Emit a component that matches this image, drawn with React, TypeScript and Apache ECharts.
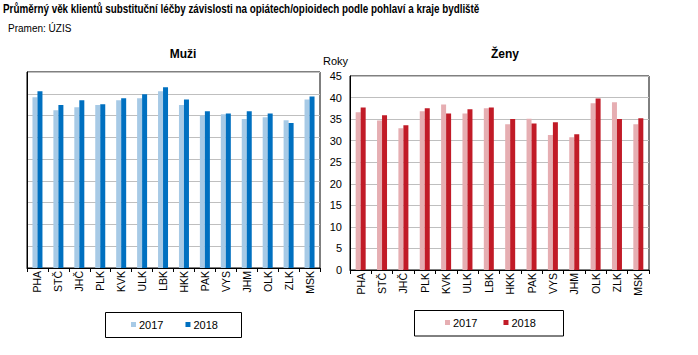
import React, { useEffect, useRef } from "react";
import * as echarts from "echarts";

const regions = ["PHA", "STČ", "JHČ", "PLK", "KVK", "ULK", "LBK", "HKK", "PAK", "VYS", "JHM", "OLK", "ZLK", "MSK"];
const men2017 = [39.2, 36.2, 36.9, 37.4, 38.5, 39.0, 40.6, 37.4, 35.0, 35.3, 34.2, 34.6, 33.9, 38.7];
const men2018 = [40.6, 37.4, 38.5, 37.6, 39.0, 39.9, 41.5, 38.7, 36.0, 35.5, 36.0, 35.5, 33.3, 39.4];
const women2017 = [36.6, 34.7, 32.9, 36.8, 38.4, 36.3, 37.5, 33.8, 35.1, 31.3, 30.8, 38.7, 38.9, 33.8];
const women2018 = [37.7, 35.9, 33.6, 37.5, 36.3, 37.3, 37.7, 35.0, 34.0, 34.3, 31.5, 39.8, 35.0, 35.2];
const years = ["2017", "2018"];
const mainTitle = "Průměrný věk klientů substituční léčby závislosti na opiátech/opioidech podle pohlaví a kraje bydliště";

const FONT = "'Liberation Sans', Arial, sans-serif";
const C = {
  m17: "#a7cae6",
  m18: "#0070c0",
  w17: "#e6aeb2",
  w18: "#c11b27",
};

export default function App() {
  const ref = useRef<HTMLDivElement>(null);
  useEffect(() => {
    if (!ref.current) return;
    const chart = echarts.init(ref.current, null, { renderer: "svg" });
    const xAxisBase = (gridIndex: number) => ({
      type: "category" as const,
      gridIndex,
      data: regions,
      boundaryGap: true,
      axisLine: { show: true, lineStyle: { color: "#000", width: 1 } },
      axisTick: { show: true, length: 4, lineStyle: { color: "#000" }, alignWithLabel: false },
      axisLabel: {
        interval: 0,
        rotate: 90,
        margin: 3,
        fontFamily: FONT,
        fontSize: 10.5,
        color: "#000",
      },
    });
    const yAxisBase = (gridIndex: number, showLabels: boolean) => ({
      type: "value" as const,
      gridIndex,
      min: 0,
      max: 45,
      interval: 5,
      axisLine: { show: true, lineStyle: { color: "#000", width: 1 } },
      axisTick: { show: false },
      splitLine: { show: true, lineStyle: { color: "#bfbfbf", width: 1 } },
      axisLabel: {
        show: showLabels,
        margin: 8,
        fontFamily: FONT,
        fontSize: 11,
        color: "#000",
      },
    });
    chart.setOption({
      animation: false,
      title: [
        {
          text: "Pramen: ÚZIS",
          left: 3,
          top: 18,
          textStyle: { fontFamily: FONT, fontSize: 10, fontWeight: "normal", color: "#000" },
        },
        {
          text: "Muži",
          left: 178,
          textAlign: "center",
          top: 43,
          textStyle: { fontFamily: FONT, fontSize: 12, fontWeight: "bold", color: "#000" },
        },
        {
          text: "Ženy",
          left: 500,
          textAlign: "center",
          top: 43,
          textStyle: { fontFamily: FONT, fontSize: 12, fontWeight: "bold", color: "#000" },
        },
      ],
      grid: [
        { left: 27, right: 378, top: 72, bottom: 87, show: true, borderColor: "#000", borderWidth: 1, containLabel: false },
        { left: 350, right: 49, top: 76, bottom: 85, show: true, borderColor: "#000", borderWidth: 1, containLabel: false },
      ],
      xAxis: [xAxisBase(0), xAxisBase(1)],
      yAxis: [
        yAxisBase(0, false),
        {
          ...yAxisBase(1, true),
          name: "Roky",
          nameLocation: "end",
          nameGap: 10,
          nameTextStyle: { fontFamily: FONT, fontSize: 11, color: "#000", align: "right", padding: [0, 2, 0, 0] },
        },
      ],
      legend: [
        {
          left: 131,
          top: 319,
          padding: 0,
          itemWidth: 5,
          itemHeight: 5,
          itemGap: 22,
          icon: "rect",
          textStyle: { fontFamily: FONT, fontSize: 11, color: "#000", padding: [0, 0, 0, -2] },
          data: [
            { name: years[0], itemStyle: { color: C.m17 } },
            { name: years[1], itemStyle: { color: C.m18 } },
          ],
          selectedMode: false,
        },
        {
          left: 445,
          top: 317,
          padding: 0,
          itemWidth: 5,
          itemHeight: 5,
          itemGap: 26,
          icon: "rect",
          textStyle: { fontFamily: FONT, fontSize: 11, color: "#000", padding: [0, 0, 0, -2] },
          data: [
            { name: years[0], itemStyle: { color: C.w17 } },
            { name: years[1], itemStyle: { color: C.w18 } },
          ],
          selectedMode: false,
        },
      ],
      graphic: [
        {
          type: "text",
          x: 3,
          y: 2,
          scaleX: 0.77,
          style: { text: mainTitle, font: `bold 12.8px ${FONT}`, fill: "#000", textVerticalAlign: "top" },
        },
        { type: "rect", shape: { x: 105.5, y: 312.5, width: 136, height: 25 }, style: { fill: "none", stroke: "#000", lineWidth: 1 } },
        { type: "rect", shape: { x: 414.5, y: 310.5, width: 149, height: 25.5 }, style: { fill: "none", stroke: "#000", lineWidth: 1 } },
      ],
      series: [
        { name: years[0], type: "bar", xAxisIndex: 0, yAxisIndex: 0, data: men2017, barWidth: 5, barGap: "0%", itemStyle: { color: C.m17 } },
        { name: years[1], type: "bar", xAxisIndex: 0, yAxisIndex: 0, data: men2018, barWidth: 5, barGap: "0%", itemStyle: { color: C.m18 } },
        { name: years[0], type: "bar", xAxisIndex: 1, yAxisIndex: 1, data: women2017, barWidth: 5, barGap: "0%", itemStyle: { color: C.w17 } },
        { name: years[1], type: "bar", xAxisIndex: 1, yAxisIndex: 1, data: women2018, barWidth: 5, barGap: "0%", itemStyle: { color: C.w18 } },
      ],
    });
    return () => chart.dispose();
  }, []);
  return (
    <div
      ref={ref}
      style={{ position: "fixed", left: 0, top: 0, width: 698, height: 355, background: "#fff" }}
    />
  );
}
